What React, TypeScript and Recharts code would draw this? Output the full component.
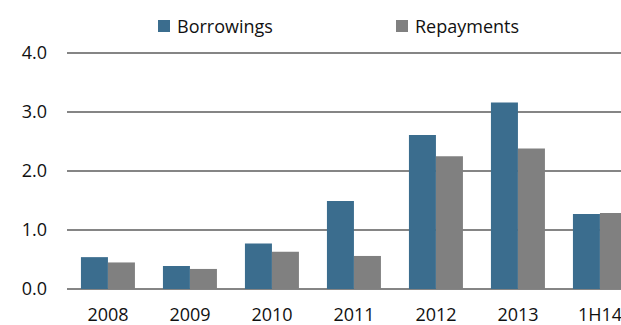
import React from "react";
import { BarChart, Bar, CartesianGrid, XAxis, YAxis } from "recharts";

const periods = ["2008", "2009", "2010", "2011", "2012", "2013", "1H14"];
const borrowings = [0.54, 0.39, 0.77, 1.49, 2.61, 3.16, 1.27];
const repayments = [0.45, 0.34, 0.63, 0.56, 2.25, 2.38, 1.29];
const yTicks = [0, 1, 2, 3, 4];

const BLUE = "#3b6d8e";
const GRAY = "#808080";
const FONT = "'Open Sans', sans-serif";

const rows = periods.map((p, i) => ({
  period: p,
  Borrowings: borrowings[i],
  Repayments: repayments[i],
}));

// legend drawn by hand above the chart, items sit far apart like in the original
const legendItems = [
  { name: "Borrowings", color: BLUE, left: 158 },
  { name: "Repayments", color: GRAY, left: 396 },
];

const LegendBox = () => (
  <div style={{ position: "absolute", top: 14, left: 0, width: 621, height: 26 }}>
    {legendItems.map((it) => (
      <div
        key={it.name}
        style={{
          position: "absolute",
          left: it.left,
          top: 0,
          display: "flex",
          alignItems: "center",
          fontFamily: FONT,
          fontSize: 18,
          color: "#111",
          whiteSpace: "nowrap",
        }}
      >
        <span
          style={{
            display: "inline-block",
            width: 12,
            height: 12,
            background: it.color,
            marginRight: 7,
          }}
        />
        {it.name}
      </div>
    ))}
  </div>
);

const App: React.FC = () => {
  return (
    <div
      style={{
        position: "fixed",
        left: 0,
        top: 0,
        width: 621,
        height: 325,
        overflow: "hidden",
        background: "#fff",
      }}
    >
      <BarChart
        width={660}
        height={325}
        data={rows}
        margin={{ top: 53, right: 19, bottom: 0, left: 0 }}
        barCategoryGap="17%"
        barGap={0}
      >
        <CartesianGrid vertical={false} stroke="#858585" strokeWidth={2} />
        <XAxis
          dataKey="period"
          axisLine={false}
          tickLine={false}
          height={36}
          tickSize={6}
          tickMargin={13}
          tick={{ fontFamily: FONT, fontSize: 18, fill: "#111" }}
        />
        <YAxis
          domain={[0, 4]}
          ticks={yTicks}
          width={67}
          axisLine={false}
          tickLine={false}
          tickSize={6}
          tickMargin={14}
          tickFormatter={(v: number) => v.toFixed(1)}
          tick={{ fontFamily: FONT, fontSize: 18, fill: "#111" }}
        />
        <Bar dataKey="Borrowings" fill={BLUE} isAnimationActive={false} />
        <Bar dataKey="Repayments" fill={GRAY} isAnimationActive={false} />
      </BarChart>
      <LegendBox />
    </div>
  );
};

export default App;
